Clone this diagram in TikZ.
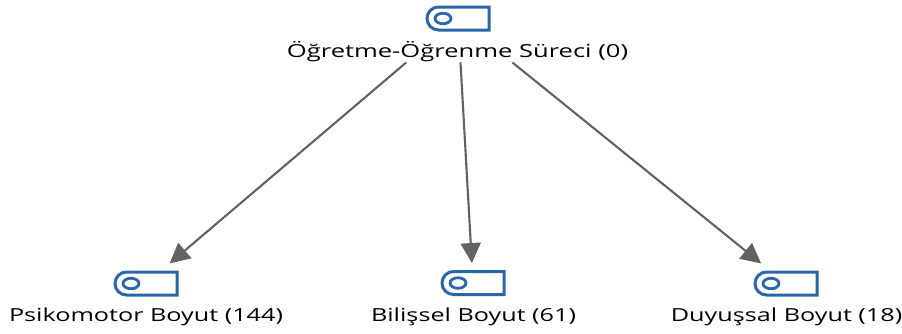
\documentclass[tikz,border=0pt]{standalone}
\usepackage{fontspec}
\setmainfont{Open Sans}
\usetikzlibrary{arrows.meta,shapes.misc,shapes.geometric}
\definecolor{iconblue}{HTML}{2A66A8}
\definecolor{edgegray}{HTML}{626262}
\tikzset{
  x=1pt,y=-1pt,
  iconbody/.style={rounded rectangle,rounded rectangle right arc=none,draw=iconblue,line width=3pt,minimum width=62pt,minimum height=23pt,inner sep=0pt,outer sep=0pt},
  iconeye/.style={ellipse,draw=iconblue,line width=2.8pt,minimum width=16pt,minimum height=10.5pt,inner sep=0pt},
  lbl/.style={text=black,font=\fontsize{18}{20}\selectfont,inner sep=0pt,anchor=center,xscale=1.40,transform shape},
  rootlbl/.style={lbl,xscale=1.0143},
  edge/.style={draw=edgegray,line width=2.1pt,-{Triangle[length=20pt,width=20pt]}},
}
\begin{document}
\begin{tikzpicture}
\useasboundingbox (0,0) rectangle (902,333);
\node[iconbody] (root) at (458,18.5) {};
\node[iconbody] (psi) at (146,283.5) {};
\node[iconbody] (bil) at (473,283) {};
\node[iconbody] (duy) at (786,283.5) {};
\node[iconeye] (rooteye) at (443,18.5) {};
\node[iconeye] (psieye) at (131,283.5) {};
\node[iconeye] (bileye) at (458,283) {};
\node[iconeye] (duyeye) at (771,283.5) {};
\node[rootlbl] (rootl) at (457.5,52) {Öğretme-Öğrenme Süreci (0)};
\node[lbl] (psil) at (146,317) {Psikomotor Boyut (144)};
\node[lbl] (bill) at (473.5,317) {Bilişsel Boyut (61)};
\node[lbl] (duyl) at (786.5,317) {Duyuşsal Boyut (18)};
\draw[edge,shorten <=68pt,shorten >=31pt] (root.center) -- (psi.center);
\draw[edge,shorten <=44pt,shorten >=20pt] (root.center) -- (bil.center);
\draw[edge,shorten <=70pt,shorten >=32pt] (root.center) -- (duy.center);
\end{tikzpicture}
\end{document}
